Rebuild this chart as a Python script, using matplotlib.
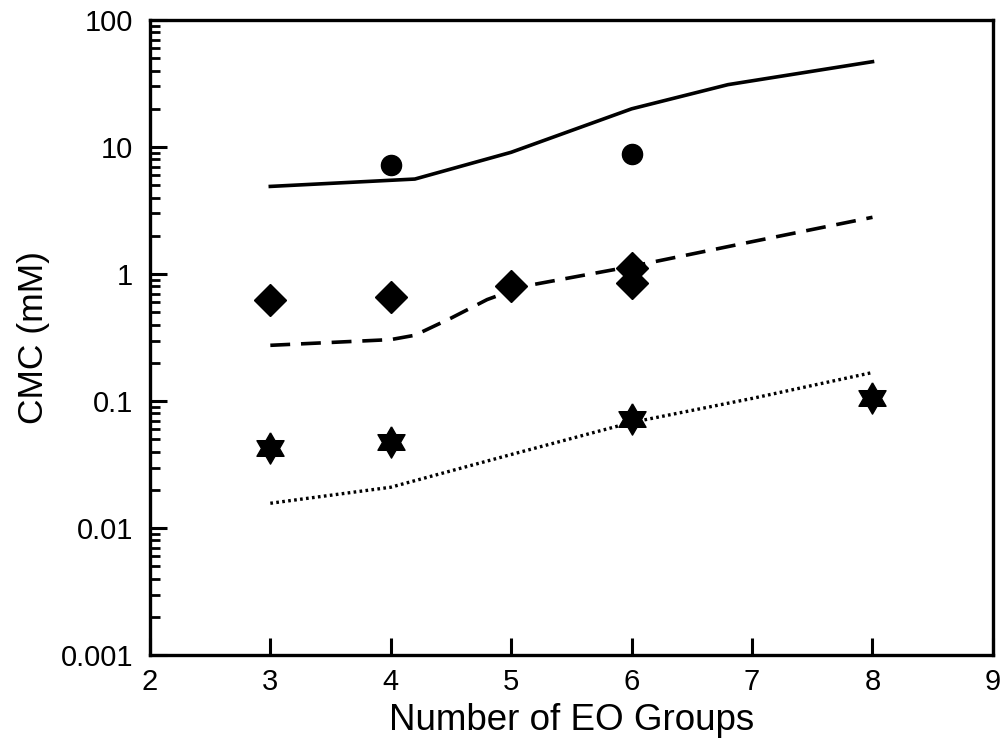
"""
CMC versus number of EO groups, measured points and model curves.
"""
import numpy as np
import matplotlib
matplotlib.use("Agg")
from matplotlib import pyplot as plt

# Measured CMC values (mM)
circle_x = [4, 6]
circle_y = [7.2, 8.8]

diamond_x = [3, 4, 5, 6, 6]
diamond_y = [0.62, 0.66, 0.80, 1.11, 0.85]

star_x = [3, 4, 6, 8]
star_y = [0.043, 0.048, 0.072, 0.106]

# Model curves
solid_x = [3, 4.2, 5, 6, 6.8, 8]
solid_y = [4.9, 5.6, 9.1, 20.0, 31.0, 47.0]

dashed_x = [3, 4, 4.2, 4.5, 4.8, 5.1, 6, 7, 8]
dashed_y = [0.275, 0.305, 0.33, 0.45, 0.63, 0.80, 1.15, 1.8, 2.8]

dotted_x = [3, 4, 5, 6, 7, 8]
dotted_y = [0.0157, 0.021, 0.038, 0.068, 0.105, 0.168]

x_ticks = [2, 3, 4, 5, 6, 7, 8, 9]
y_ticks = [0.001, 0.01, 0.1, 1, 10, 100]
y_tick_labels = ["0.001", "0.01", "0.1", "1", "10", "100"]

plt.rcParams["font.family"] = ["Liberation Sans", "DejaVu Sans"]


def hexagram():
    """Six pointed star marker outline, point up."""
    verts = []
    inner = 1 / np.sqrt(3)
    for k in range(12):
        ang = np.pi / 2 + k * np.pi / 6
        r = 1.0 if k % 2 == 0 else inner
        verts.append((r * np.cos(ang), r * np.sin(ang)))
    verts.append(verts[0])
    return verts


fig, ax = plt.subplots(figsize=(10.06, 7.42), dpi=100)
fig.subplots_adjust(left=0.149, right=0.987, top=0.973, bottom=0.117)

ax.plot(solid_x, solid_y, color="black", lw=2.6, ls="-")
ax.plot(dashed_x, dashed_y, color="black", lw=2.6, ls=(0, (5.5, 3)))
ax.plot(dotted_x, dotted_y, color="black", lw=2.4, ls=(0, (0.8, 1.0)))

ax.plot(circle_x, circle_y, "o", color="black", ms=14.5, ls="none")
ax.plot(diamond_x, diamond_y, "D", color="black", ms=16, ls="none")
ax.plot(star_x, star_y, marker=hexagram(), color="black", ms=22.5, ls="none")

ax.set_yscale("log")
ax.set_xlim(2, 9)
ax.set_ylim(0.001, 100)
ax.set_xticks(x_ticks)
ax.set_yticks(y_ticks)
ax.set_yticklabels(y_tick_labels)
ax.yaxis.set_minor_locator(matplotlib.ticker.LogLocator(base=10, subs=np.arange(2, 10)))
ax.yaxis.set_minor_formatter(matplotlib.ticker.NullFormatter())

ax.tick_params(axis="both", which="major", direction="in", length=12, width=2.2,
               labelsize=21, top=False, right=False)
ax.tick_params(axis="y", which="major", pad=12)
ax.tick_params(axis="x", which="major", pad=9)
ax.tick_params(axis="y", which="minor", direction="in", length=7, width=2.0, right=False)
for side in ax.spines.values():
    side.set_linewidth(2.4)

ax.set_xlabel("Number of EO Groups", fontsize=26.5, labelpad=5)
ax.set_ylabel("CMC (mM)", fontsize=25.5, labelpad=8)

fig.savefig("out.png", dpi=100)
